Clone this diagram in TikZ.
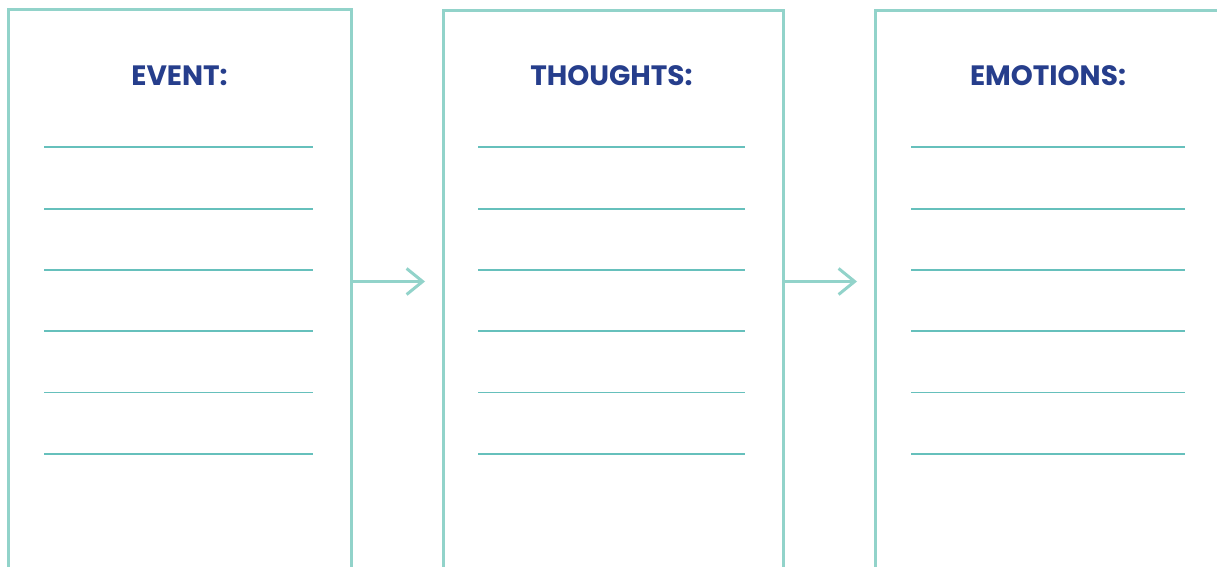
\documentclass[tikz,border=0pt]{standalone}
\usepackage{fontspec}
\newfontfamily\titlefont{Poppins}
\usetikzlibrary{arrows.meta}
\definecolor{frame}{HTML}{92D3CA}
\definecolor{rule}{HTML}{66C0BC}
\definecolor{titleblue}{HTML}{263E8C}
\tikzset{
  panel/.style={draw=frame, line width=3pt, rectangle, minimum height=570pt, inner sep=0pt, anchor=north west},
  title/.style={font=\titlefont\bfseries\fontsize{28}{30}\selectfont, text=titleblue, anchor=base, inner sep=0pt},
  writeline/.style={draw=rule, line width=1.8pt},
  flow/.style={draw=frame, line width=3pt, -{Straight Barb[length=16pt, width=26pt, line width=3pt]}}
}
\begin{document}
\begin{tikzpicture}[x=1pt,y=-1pt]
\useasboundingbox (0,0) rectangle (1217,567);
\clip (0,0) rectangle (1217,567);
\node[panel, minimum width=343pt] (b1) at (7,8) {};
\node[panel, minimum width=340pt] (b2) at (442,9) {};
\node[panel, minimum width=343pt] (b3) at (874,9) {};
\node[title] (t1) at (179.5,85.5) {EVENT:};
\node[title] (t2) at (611.5,85.5) {THOUGHTS:};
\node[title] (t3) at (1048,85.5) {EMOTIONS:};
\foreach \y [count=\i] in {147.3,208.6,269.9,331.2,392.5,453.8}{
  \coordinate (l1a\i) at (44,\y); \coordinate (l1b\i) at (313,\y);
  \coordinate (l2a\i) at (478,\y); \coordinate (l2b\i) at (745,\y);
  \coordinate (l3a\i) at (911,\y); \coordinate (l3b\i) at (1185,\y);
  \draw[writeline] (l1a\i) -- (l1b\i);
  \draw[writeline] (l2a\i) -- (l2b\i);
  \draw[writeline] (l3a\i) -- (l3b\i);
}
\coordinate (a1) at (425,281.5);
\coordinate (a2) at (857,281.5);
\draw[flow] (b1.east |- a1) -- (a1);
\draw[flow] (b2.east |- a2) -- (a2);
\end{tikzpicture}
\end{document}
